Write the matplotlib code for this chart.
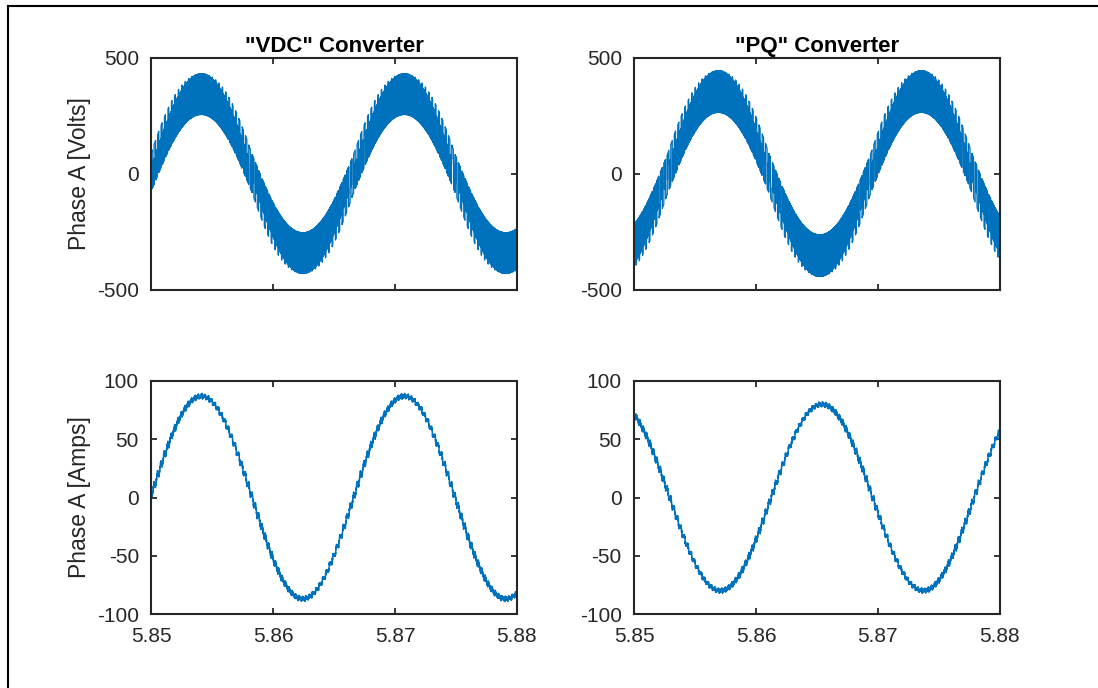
import numpy as np
import matplotlib
matplotlib.use("Agg")
import matplotlib.pyplot as plt
from matplotlib.lines import Line2D

plt.rcParams['font.family'] = ['Liberation Sans', 'DejaVu Sans']
plt.rcParams['axes.unicode_minus'] = False

# ---- time window and axis ticks ----
t_start, t_end = 5.85, 5.88
x_ticks = [5.85, 5.86, 5.87, 5.88]
x_tick_labels = ['5.85', '5.86', '5.87', '5.88']
volt_ticks = [-500, 0, 500]
volt_tick_labels = ['-500', '0', '500']
amp_ticks = [-100, -50, 0, 50, 100]
amp_tick_labels = ['-100', '-50', '0', '50', '100']

titles = ['"VDC" Converter', '"PQ" Converter']
volt_label = 'Phase A [Volts]'
amp_label = 'Phase A [Amps]'

# ---- waveform parameters per converter (VDC, PQ) ----
f_grid = 60.0          # fundamental frequency [Hz]
f_carrier = 3600.0     # PWM carrier frequency [Hz]
f_band = 20000.0       # high-frequency switching content [Hz]
mod_index = 0.8        # modulation index seen by the filter current
pulse_index = 0.95     # modulation index of the voltage pulse pattern

volt_amp = [343.0, 354.0]        # fundamental amplitude of phase voltage [V]
volt_peak_t = [5.8541, 5.8569]   # time of first positive crest [s]
volt_band_zero = [52.0, 54.0]    # switching band half-width at zero crossing [V]
volt_band_peak = [88.0, 90.0]    # switching band half-width at crest [V]
volt_pulse = [30.0, 30.0]        # carrier pulse height [V]

amp_amp = [87.0, 80.0]           # fundamental amplitude of phase current [A]
amp_peak_t = [5.8541, 5.8654]    # time of first positive crest [s]
amp_ripple = [3.8, 3.5]          # peak carrier ripple [A]
amp_hf = [1.0, 1.0]              # high-frequency ripple [A]

line_color = '#0072BD'
axis_color = '#262626'

# ---- sampled time base ----
per_carrier = 300
n_pts = int(round((t_end - t_start) * f_carrier * per_carrier)) + 1
t = np.linspace(t_start, t_end, n_pts)
dt = t[1] - t[0]
w = 2 * np.pi * f_grid


def triangle(freq):
    ph = (t * freq) % 1.0
    return 2 * np.abs(2 * ph - 1) - 1


q_hf = np.where(triangle(f_band) > 0, 1.0, -1.0)


def phase_voltage(k):
    t0 = volt_peak_t[k] - 1.0 / (4 * f_grid)
    s = np.sin(w * (t - t0))
    half = volt_band_zero[k] + (volt_band_peak[k] - volt_band_zero[k]) * np.abs(s)
    ref = pulse_index * s
    pwm = np.where(ref > triangle(f_carrier), 1.0, -1.0)
    # while the leg is in its minority state the voltage holds at one rail
    q = np.where(pwm * np.sign(s) > 0, q_hf, np.sign(s))
    pulses = volt_pulse[k] * (1 - s ** 2) * (ref - pwm)
    return volt_amp[k] * s + half * q + pulses


def phase_current(k):
    t0v = volt_peak_t[k] - 1.0 / (4 * f_grid)
    ref = mod_index * np.sin(w * (t - t0v))
    pwm = np.where(ref > triangle(f_carrier), 1.0, -1.0)
    ripple = np.cumsum(pwm - ref) * dt
    padded = np.pad(ripple, per_carrier, mode='reflect')
    avg = np.convolve(padded, np.ones(per_carrier) / per_carrier, mode='same')
    ripple = (padded - avg)[per_carrier:-per_carrier]
    ripple = ripple / np.max(np.abs(ripple)) * amp_ripple[k]
    t0 = amp_peak_t[k] - 1.0 / (4 * f_grid)
    return amp_amp[k] * np.sin(w * (t - t0)) + ripple + amp_hf[k] * q_hf


fig = plt.figure(figsize=(10.98, 6.88), dpi=100)
fig.patch.set_facecolor('white')

lefts = [151.4 / 1098, 634.3 / 1098]
width = 365.4 / 1098
top_row = (1 - 289.5 / 688, 231.8 / 688)
bot_row = (1 - 614.0 / 688, 233.0 / 688)


def style(ax, yticks, ylabels, show_x):
    ax.set_xlim(t_start, t_end)
    ax.set_xticks(x_ticks)
    ax.set_xticklabels(x_tick_labels if show_x else [])
    ax.set_yticks(yticks)
    ax.set_yticklabels(ylabels)
    ax.tick_params(direction='in', top=True, right=True, length=4, width=1.3,
                   colors=axis_color, labelsize=15, pad=9,
                   labelbottom=show_x)
    for sp in ax.spines.values():
        sp.set_color(axis_color)
        sp.set_linewidth(1.5)


for k in range(2):
    axv = fig.add_axes([lefts[k], top_row[0], width, top_row[1]])
    axv.plot(t, phase_voltage(k), color=line_color, lw=0.9)
    axv.set_ylim(-500, 500)
    style(axv, volt_ticks, volt_tick_labels, False)
    axv.set_title(titles[k], fontsize=16, fontweight='bold', color='black', pad=4)

    axi = fig.add_axes([lefts[k], bot_row[0], width, bot_row[1]])
    axi.plot(t, phase_current(k), color=line_color, lw=1.1)
    axi.set_ylim(-100, 100)
    style(axi, amp_ticks, amp_tick_labels, True)

    if k == 0:
        axv.set_ylabel(volt_label, fontsize=16.5, color=axis_color, va='center')
        axv.yaxis.set_label_coords(-0.196, 0.5)
        axi.set_ylabel(amp_label, fontsize=16.5, color=axis_color, va='center')
        axi.yaxis.set_label_coords(-0.196, 0.5)

# frame around the figure window
x_fr = 7.5 / 1098
y_fr = 1 - 5.5 / 688
fig.add_artist(Line2D([x_fr, x_fr], [0, y_fr], transform=fig.transFigure,
                      color='black', lw=1.5))
fig.add_artist(Line2D([x_fr, 1], [y_fr, y_fr], transform=fig.transFigure,
                      color='black', lw=1.5))

fig.savefig('out.png', dpi=100, facecolor='white')
